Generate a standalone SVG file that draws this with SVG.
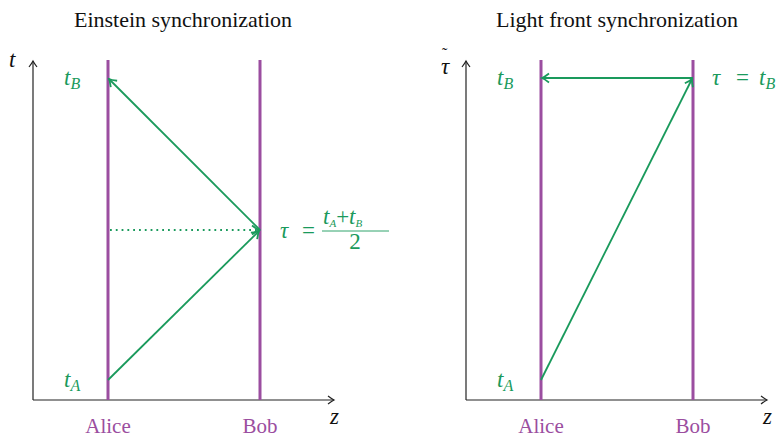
<svg xmlns="http://www.w3.org/2000/svg" width="782" height="439" viewBox="0 0 782 439">
<style>
text{font-family:"Liberation Serif","DejaVu Serif",serif}
.title{font-size:22px;fill:#111;text-anchor:middle}
.who{font-size:21px;fill:#9b4ea0;text-anchor:middle}
.math{font-style:italic;font-size:23px;fill:#1a9a5c}
.up{font-style:normal}
.sub{font-size:16px}
.ax{stroke:#222;stroke-width:1.2;fill:none}
.wl{stroke:#9b4ea0;stroke-width:3;fill:none}
.ray{stroke:#1a9a5c;stroke-width:1.8;fill:none}
.axl{font-style:italic;font-size:23px;fill:#111}
</style>
<defs>
<marker id="ah" viewBox="-8 -5 10 10" markerWidth="10" markerHeight="10" refX="0" refY="0" orient="auto" markerUnits="userSpaceOnUse">
<path d="M-6,-4 Q-2,-1 0,0 Q-2,1 -6,4" fill="none" stroke="#222" stroke-width="1.2"/>
</marker>
<marker id="gh" viewBox="-9 -6 11 12" markerWidth="11" markerHeight="12" refX="0" refY="0" orient="auto" markerUnits="userSpaceOnUse">
<path d="M-7,-4.5 Q-2.5,-1 0,0 Q-2.5,1 -7,4.5" fill="none" stroke="#1a9a5c" stroke-width="1.8"/>
</marker>
</defs>
<text class="title" x="183" y="27">Einstein synchronization</text>
<text class="title" x="617" y="27">Light front synchronization</text>
<g id="axes-left">
<line class="ax" x1="33" y1="400" x2="33" y2="61" marker-end="url(#ah)"/>
<line class="ax" x1="33" y1="400" x2="334" y2="400" marker-end="url(#ah)"/>
<text class="axl" x="9" y="67">t</text>
<text class="axl" x="330" y="424">z</text>
</g>
<g id="axes-right">
<line class="ax" x1="466" y1="400" x2="466" y2="61" marker-end="url(#ah)"/>
<line class="ax" x1="466" y1="400" x2="767" y2="400" marker-end="url(#ah)"/>
<text class="axl"><tspan class="up" x="442" y="59" font-size="16">˜</tspan><tspan x="441" y="74">τ</tspan></text>
<text class="axl" x="763" y="424">z</text>
</g>
<g id="alice-left"><line class="wl" x1="108" y1="60" x2="108" y2="400"/><text class="who" x="108" y="433">Alice</text></g>
<g id="bob-left"><line class="wl" x1="260" y1="60" x2="260" y2="400"/><text class="who" x="260" y="433">Bob</text></g>
<g id="alice-right"><line class="wl" x1="541" y1="60" x2="541" y2="400"/><text class="who" x="541" y="433">Alice</text></g>
<g id="bob-right"><line class="wl" x1="693" y1="60" x2="693" y2="400"/><text class="who" x="693" y="433">Bob</text></g>
<g id="labels">
<text class="math" x="64" y="85">t<tspan class="sub" dy="4">B</tspan></text>
<text class="math" x="64" y="387">t<tspan class="sub" dy="4">A</tspan></text>
<text class="math" x="497" y="85">t<tspan class="sub" dy="4">B</tspan></text>
<text class="math" x="497" y="387">t<tspan class="sub" dy="4">A</tspan></text>
<text class="math" x="280" y="238">τ<tspan class="up" x="302">=</tspan></text>
<text class="math" font-size="15" x="323" y="224">t<tspan font-size="11" y="227">A</tspan><tspan class="up" y="224">+</tspan>t<tspan font-size="11" y="227">B</tspan></text>
<line x1="322" y1="231" x2="389" y2="231" stroke="#1a9a5c" stroke-width="0.9"/>
<text class="math up" x="355" y="249" font-size="15" text-anchor="middle">2</text>
<text class="math" x="712" y="85">τ<tspan class="up" x="736">=</tspan><tspan x="759">t</tspan><tspan class="sub" dy="4">B</tspan></text>
</g>
<g id="connectors">
<line class="ray" x1="108" y1="380" x2="259" y2="231" marker-end="url(#gh)"/>
<line class="ray" x1="260" y1="230" x2="109" y2="79" marker-end="url(#gh)"/>
<line class="ray" x1="110" y1="230" x2="259" y2="230" stroke-dasharray="1.8 4" marker-end="url(#gh)"/>
<line class="ray" x1="541" y1="380" x2="692" y2="79" marker-end="url(#gh)"/>
<line class="ray" x1="693" y1="78" x2="542" y2="78" marker-end="url(#gh)"/>
</g>
</svg>
